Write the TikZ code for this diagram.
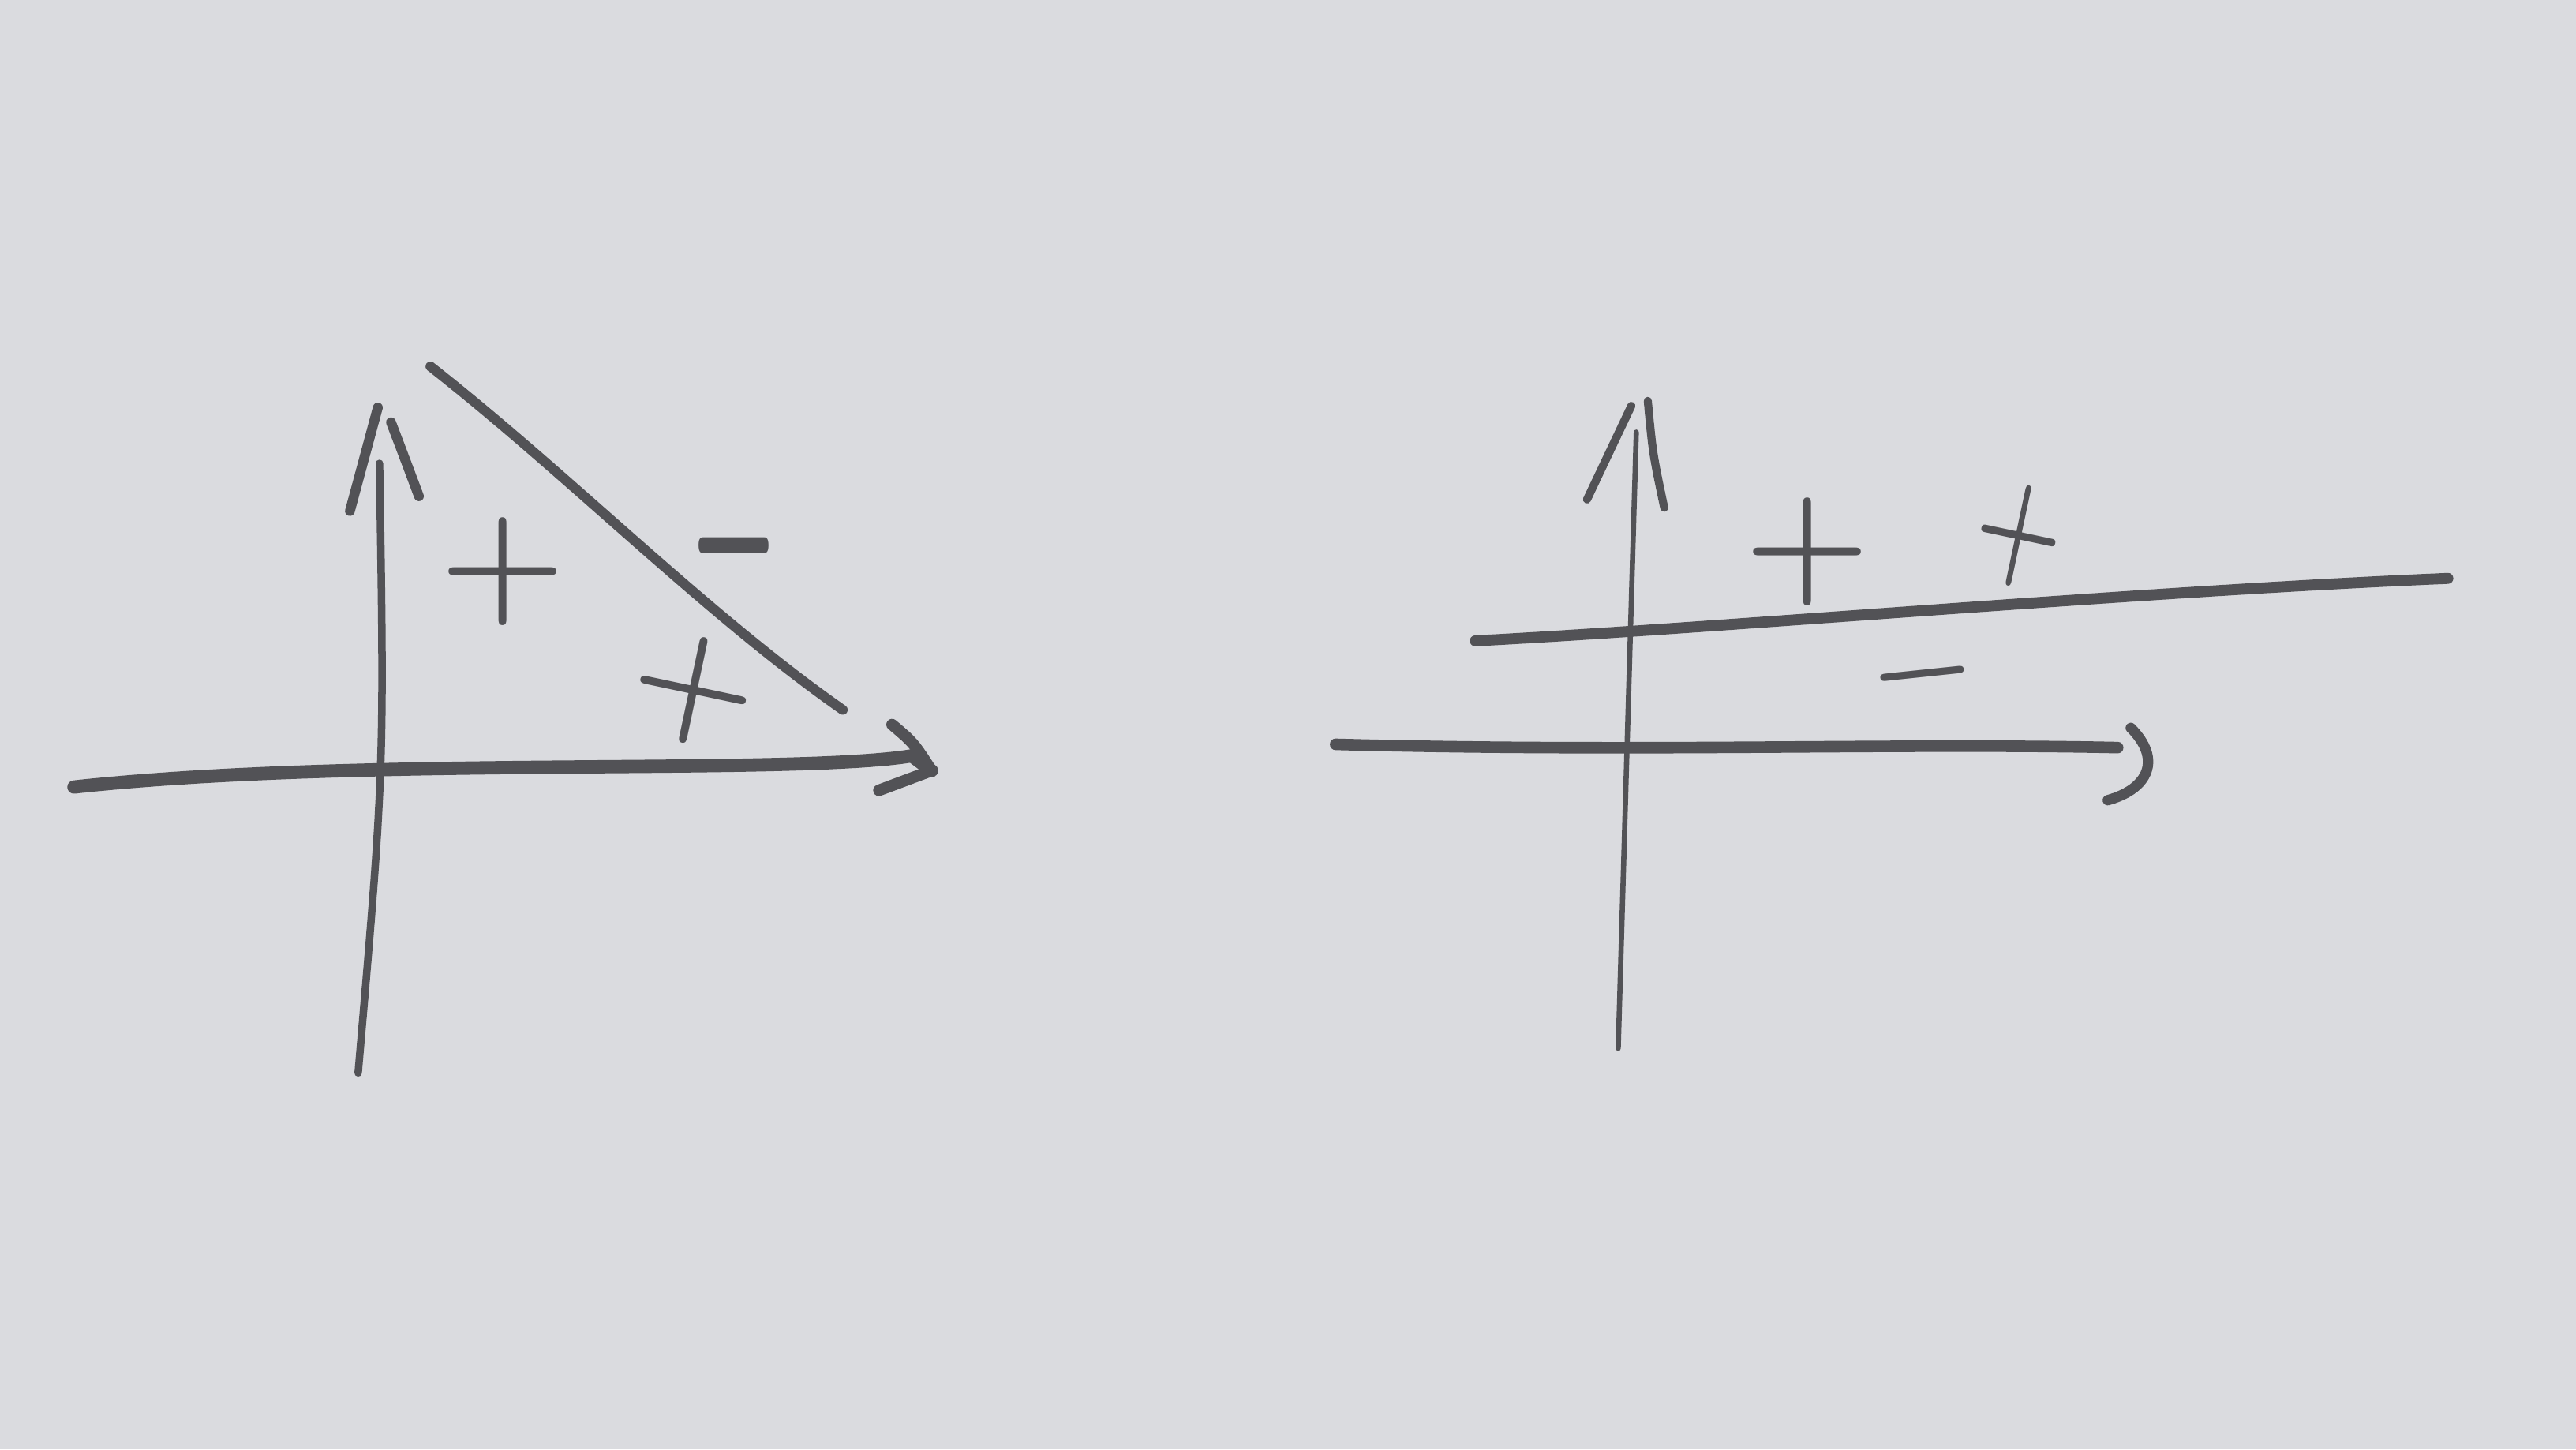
\documentclass[tikz,border=0pt]{standalone}
\usepackage{amsmath}
\usepackage{graphicx}
\usepackage{tikz}
\usetikzlibrary{calc}

\definecolor{paper}{RGB}{218,219,223}
\definecolor{pencil}{RGB}{82,82,86}

\begin{document}
\begin{tikzpicture}[
        x=0.1mm, y=-0.1mm, % pixel-like units, y grows downwards
        pencil/.style={draw=pencil, line cap=round, line join=round},
        thickaxis/.style={pencil, line width=2.3pt},
        thinaxis/.style={pencil, line width=1.1pt},
        headstroke/.style={pencil, line width=1.7pt},
        sign/.style={text=pencil, inner sep=0pt, font=\fontsize{24}{24}\selectfont\boldmath}
    ]

    % ==========================================
    % 0. PAPER
    % ==========================================
    \fill[paper] (0,0) rectangle (1568,882);
    \useasboundingbox (0,0) rectangle (1568,882);

    % ==========================================
    % 1. LEFT SKETCH
    % ==========================================
    \coordinate (lyBot) at (218,653);
    \coordinate (lyTop) at (231,282);
    \coordinate (lxL)   at (45,479);
    \coordinate (lxR)   at (555,460);
    \coordinate (lxTip) at (567,469);
    \coordinate (dTop)  at (262,223);
    \coordinate (dBot)  at (513,432);

    % axes
    \draw[thinaxis, line width=1.3pt] (lyBot) .. controls (234,468) .. (lyTop);
    \draw[thickaxis] (lxL) .. controls (220,460) and (480,472) .. (lxR) -- (lxTip);

    % arrow heads
    \draw[headstroke] (213,311) -- (230,248);
    \draw[headstroke] (238,257) .. controls (246,278) .. (255,302);
    \draw[headstroke, line width=2pt] (543,441) .. controls (556,452) .. (lxTip) -- (535,481);

    % boundary line
    \draw[pencil, line width=1.7pt] (dTop) .. controls (345,288) and (430,374) .. (dBot);

    % signs
    \node[sign] (plusA)  at (306,348) {$+$};
    \node[sign, font=\fontsize{19}{19}\selectfont\boldmath] (minusA) at (447,332) {\scalebox{1}[2.6]{$-$}};
    \node[sign, rotate=-12] (plusB) at (422,420) {$+$};

    % ==========================================
    % 2. RIGHT SKETCH
    % ==========================================
    \coordinate (ryBot) at (985,638);
    \coordinate (ryTop) at (996,263);
    \coordinate (rxL)   at (813,453);
    \coordinate (rxR)   at (1289,455);
    \coordinate (rxTip) at (1297,443);
    \coordinate (hL)    at (898,390);
    \coordinate (hR)    at (1490,352);

    % axes
    \draw[thinaxis, line width=0.9pt] (ryBot) -- (ryTop);
    \draw[thickaxis, line width=2pt] (rxL) .. controls (1000,458) and (1150,452) .. (rxR);

    % arrow heads
    \draw[headstroke, line width=1.4pt] (966,304) -- (993,247);
    \draw[headstroke, line width=1.4pt] (1003,244) .. controls (1006,276) .. (1013,309);
    \draw[headstroke, line width=1.8pt] (rxTip) .. controls (1316,462) and (1308,480) .. (1283,487);

    % boundary line
    \draw[pencil, line width=1.9pt] (hL) .. controls (1050,382) and (1300,360) .. (hR);

    % signs
    \node[sign, font=\fontsize{26}{26}\selectfont\boldmath] (plusC) at (1100,336) {$+$};
    \node[sign, rotate=-12] (plusD) at (1229,326) {\scalebox{0.7}[0.95]{$+$}};
    \node[sign, rotate=6, font=\fontsize{21}{21}\selectfont\boldmath] (minusB) at (1170,410) {$-$};

\end{tikzpicture}
\end{document}
